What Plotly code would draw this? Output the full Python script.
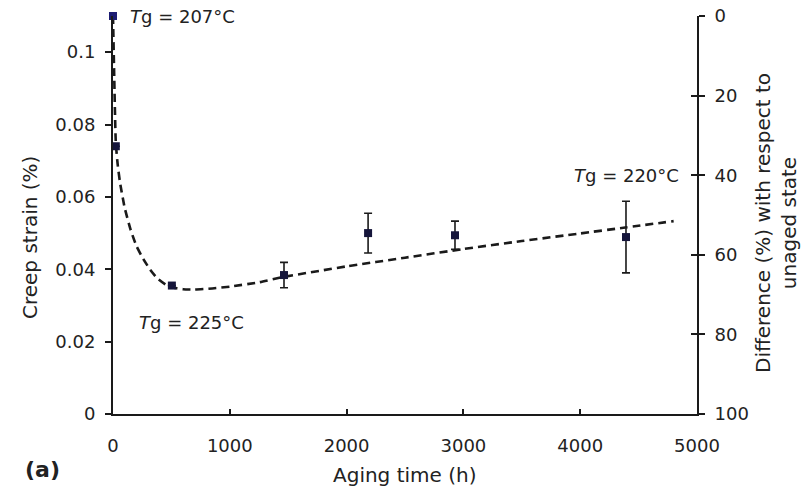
import plotly.graph_objects as go

# Measured creep strain after aging
aging_h = [0, 24, 504, 1464, 2184, 2928, 4392]
creep_strain = [0.110, 0.074, 0.0355, 0.0384, 0.0500, 0.0494, 0.0489]
strain_err = [0, 0, 0, 0.0035, 0.0055, 0.0039, 0.0099]

# Fitted trend (dashed curve)
fit_h = [0, 10, 24, 40, 60, 100, 150, 200, 260, 320, 380, 450, 520, 600, 700,
         850, 1000, 1250, 1464, 2000, 2500, 3000, 3500, 4000, 4400, 4800]
fit_strain = [0.110, 0.094, 0.075, 0.069, 0.064, 0.057, 0.051, 0.0465, 0.0428,
              0.0398, 0.0375, 0.0358, 0.0349, 0.0345, 0.0344, 0.0347, 0.0352,
              0.0364, 0.0379, 0.0408, 0.0432, 0.0456, 0.0478, 0.0499, 0.0516,
              0.0533]

x_ticks = [0, 1000, 2000, 3000, 4000, 5000]
y_ticks = [0, 0.02, 0.04, 0.06, 0.08, 0.1]
y_tick_text = ["0", "0.02", "0.04", "0.06", "0.08", "0.1"]
diff_ticks = [0, 20, 40, 60, 80, 100]

FONT = "DejaVu Sans, Liberation Sans, Arial, sans-serif"
INK = "#1a1a1a"

fig = go.Figure()

fig.add_trace(go.Scatter(
    x=fit_h, y=fit_strain, mode="lines",
    line=dict(color=INK, width=2.6, dash="8px,5px", shape="spline", smoothing=0.5),
    hoverinfo="skip", showlegend=False, cliponaxis=False,
))

marker_colors = ["#1c1c72"] + ["#15153a"] * (len(aging_h) - 1)
fig.add_trace(go.Scatter(
    x=aging_h, y=creep_strain, mode="markers",
    marker=dict(symbol="square", size=8, color=marker_colors, line=dict(width=0)),
    error_y=dict(type="data", array=strain_err, visible=True,
                 color=INK, thickness=1.6, width=4),
    showlegend=False, cliponaxis=False,
))

# Secondary scale: percentage difference, reversed
fig.add_trace(go.Scatter(x=[None], y=[None], yaxis="y2", showlegend=False))
fig.add_trace(go.Scatter(x=[None], y=[None], yaxis="y3", showlegend=False))

axis_common = dict(showgrid=False, zeroline=False, linecolor=INK, linewidth=2,
                   tickcolor=INK, tickwidth=1.6, automargin=False,
                   tickfont=dict(family=FONT, size=18, color="#222"))

fig.update_layout(
    width=812, height=488,
    margin=dict(l=113, r=115, t=16, b=74),
    paper_bgcolor="white", plot_bgcolor="white",
    font=dict(family=FONT, color="#222"),
    xaxis=dict(range=[0, 5000], tickvals=x_ticks, ticks="inside", ticklen=5,
               showline=True, ticklabelstandoff=14, **axis_common),
    yaxis=dict(range=[0, 0.11], tickvals=y_ticks, ticktext=y_tick_text,
               ticks="outside", ticklen=6, showline=True,
               ticklabelstandoff=6, **axis_common),
    yaxis2=dict(range=[100, 0], tickvals=diff_ticks, overlaying="y", side="right",
                anchor="x", ticks="outside", ticklen=6, showline=True,
                ticklabelstandoff=6, **axis_common),
    yaxis3=dict(range=[100, 0], tickvals=diff_ticks, overlaying="y", side="right",
                anchor="x", ticks="inside", ticklen=6, showline=False,
                showticklabels=False, **axis_common),
)

ann_font = dict(family=FONT, size=18, color="#222")
fig.add_annotation(x=0, y=0.11, xref="x", yref="y", text="<i>T</i>g = 207°C",
                   xanchor="left", yanchor="middle", xshift=15, showarrow=False,
                   font=ann_font)
fig.add_annotation(x=205, y=0.0254, xref="x", yref="y", text="<i>T</i>g = 225°C",
                   xanchor="left", yanchor="middle", showarrow=False, font=ann_font)
fig.add_annotation(x=4863, y=40, xref="x", yref="y2", text="<i>T</i>g = 220°C",
                   xanchor="right", yanchor="middle", showarrow=False, font=ann_font)

# Axis titles, placed in pixels
title_font = dict(family=FONT, size=20, color="#222")
fig.add_annotation(x=30, y=488 - 237, xref="paper", yref="paper",
                   text="Creep strain (%)", textangle=-90, showarrow=False,
                   font=title_font, xanchor="center", yanchor="middle")
fig.add_annotation(x=405, y=488 - 475, xref="paper", yref="paper",
                   text="Aging time (h)", showarrow=False,
                   font=title_font, xanchor="center", yanchor="middle")
fig.add_annotation(x=776, y=488 - 223, xref="paper", yref="paper",
                   text="Difference (%) with respect to<br>unaged state",
                   textangle=-90, showarrow=False, font=title_font,
                   xanchor="center", yanchor="middle")
fig.add_annotation(x=42, y=488 - 469, xref="paper", yref="paper",
                   text="<b>(a)</b>", showarrow=False,
                   font=dict(family=FONT, size=22, color="#222"),
                   xanchor="center", yanchor="middle")

# Convert the pixel-placed annotations into paper fractions
W, H = 812, 488
L, R, T, B = 113, 115, 16, 74
pw, ph = W - L - R, H - T - B
for a in fig.layout.annotations:
    if a.xref == "paper":
        a.x = (a.x - L) / pw
        a.y = (a.y - B) / ph

fig.write_html("out.html")
